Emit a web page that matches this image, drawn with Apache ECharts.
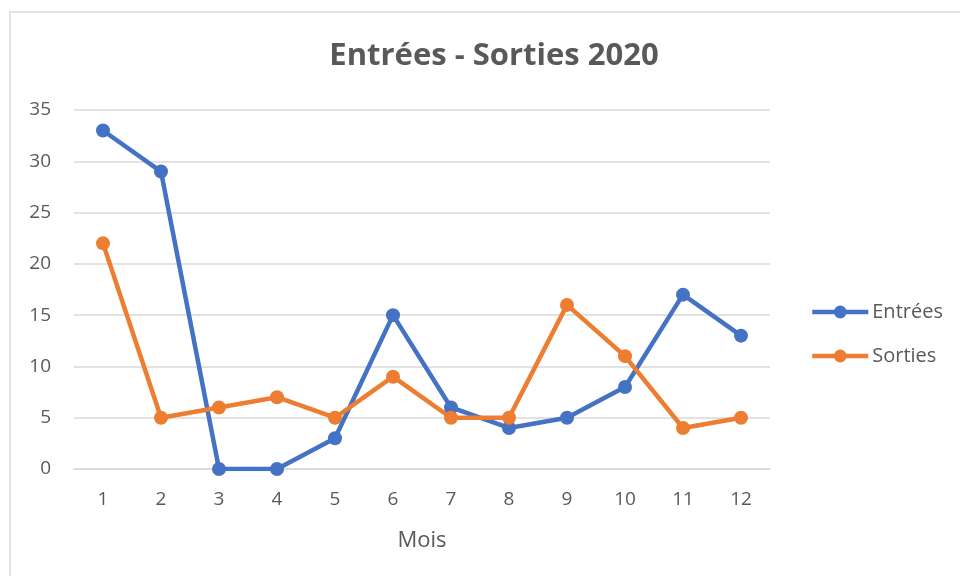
<!DOCTYPE html>
<html><head><meta charset="utf-8">
<script src="https://cdn.jsdelivr.net/npm/echarts@6/dist/echarts.min.js"></script>
<style>html,body{margin:0;padding:0;background:#fff}#c{width:960px;height:576px}</style>
</head><body><div id="c"></div>
<script>
const categories = ['1','2','3','4','5','6','7','8','9','10','11','12'];
const entrees = [33,29,0,0,3,15,6,4,5,8,17,13];
const sorties = [22,5,6,7,5,9,5,5,16,11,4,5];
const chart = echarts.init(document.getElementById('c'));
const font = '"Open Sans", "Noto Sans", sans-serif';
chart.setOption({
  animation:false,
  backgroundColor:'#fff',
  graphic:[{type:'rect',shape:{x:10,y:12,width:1000,height:700},style:{fill:'none',stroke:'#d9d9d9',lineWidth:1.5},silent:true}],
  title:{text:'Entrées - Sorties 2020',left:489,top:36,textAlign:'center',
    textStyle:{fontFamily:font,fontSize:31,fontWeight:'bold',color:'#595959'}},
  legend:{orient:'vertical',left:810,top:302,padding:0,itemWidth:56,itemHeight:16,itemGap:24,
    textStyle:{fontFamily:font,fontSize:20,color:'#595959',lineHeight:20,padding:[0,0,0,-1]},
    lineStyle:{width:4.5},
    data:['Entrées','Sorties']},
  grid:{left:74,right:190,top:110,bottom:107,containLabel:false},
  xAxis:{type:'category',data:categories,boundaryGap:true,name:'Mois',nameLocation:'middle',nameGap:61,
    nameTextStyle:{fontFamily:font,fontSize:22,color:'#595959'},
    axisLine:{show:true,lineStyle:{color:'#d9d9d9',width:1.5}},axisTick:{show:false},
    axisLabel:{fontFamily:font,fontSize:19,color:'#595959',margin:21}},
  yAxis:{type:'value',min:0,max:35,interval:5,
    axisLine:{show:false},axisTick:{show:false},
    splitLine:{lineStyle:{color:'#d9d9d9',width:1.5}},
    axisLabel:{fontFamily:font,fontSize:19,color:'#595959',margin:23}},
  series:[
    {name:'Entrées',type:'line',data:entrees,symbol:'circle',symbolSize:14,
      lineStyle:{color:'#4472C4',width:4.5},itemStyle:{color:'#4472C4'}},
    {name:'Sorties',type:'line',data:sorties,symbol:'circle',symbolSize:14,
      lineStyle:{color:'#ED7D31',width:4.5},itemStyle:{color:'#ED7D31'}}
  ]
});
</script></body></html>
